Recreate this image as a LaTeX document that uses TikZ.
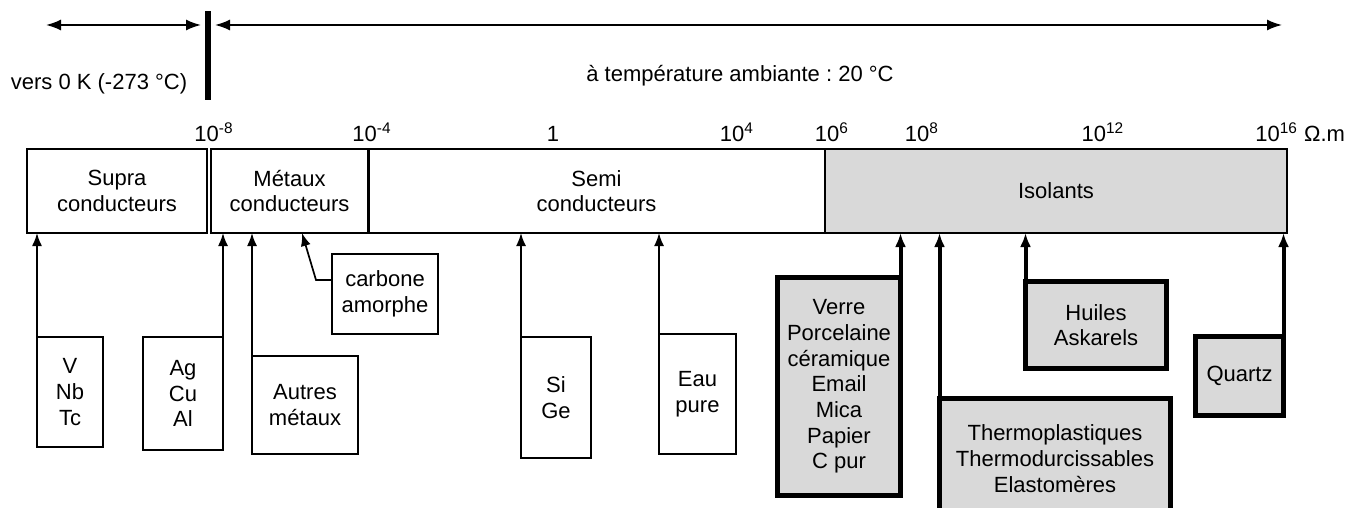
\documentclass[tikz,border=0pt]{standalone}
\usepackage{fontspec}
\setmainfont{Liberation Sans}
\frenchspacing
\usetikzlibrary{arrows.meta,calc}

\begin{document}
\begin{tikzpicture}[x=0.5pt, y=-0.5pt,
  font=\fontsize{11}{12.85}\selectfont,
  band/.style={draw, line width=0.85pt, anchor=north west, outer sep=0pt, inner sep=0pt, minimum height=42pt, align=center},
  isol/.style={band, fill=black!15},
  item/.style={draw, line width=0.85pt, anchor=north west, outer sep=0pt, inner sep=0pt, align=center},
  bitem/.style={item, line width=2.5pt, fill=black!15},
  arr/.style={-{Latex[length=6.5pt,width=5pt]}, line width=0.85pt},
  barr/.style={-{Latex[length=7pt,width=5.5pt]}, line width=2pt},
  dbl/.style={{Latex[length=7.5pt,width=5.5pt]}-{Latex[length=7.5pt,width=5.5pt]}, line width=0.85pt},
  dec/.style={anchor=base, inner sep=0pt}]
\useasboundingbox (0,0) rectangle (1359,508);

\node[fill, inner sep=0pt, outer sep=0pt, minimum width=3pt, minimum height=44.5pt] (zero) at (208,55.5) {};
\coordinate (froid) at (46,25);
\coordinate (chaud) at (1282,25);
\draw[dbl] (froid) -- ([xshift=-2pt]zero.west |- froid);
\draw[dbl] ([xshift=2pt]zero.east |- chaud) -- (chaud);
\node[anchor=base, inner sep=0pt] (vers) at (99,90) {vers 0 K (-273 °C)};
\node[anchor=base, inner sep=0pt] (amb) at (740,82) {à température ambiante : 20 °C};

\node[dec] (pm8) at (214,141) {10\textsuperscript{-8}};
\node[dec] (pm4) at (372,141) {10\textsuperscript{-4}};
\node[dec] (p0) at (553,141) {1};
\node[dec] (p4) at (737,141) {10\textsuperscript{4}};
\node[dec] (p6) at (832,141) {10\textsuperscript{6}};
\node[dec] (p8) at (922,141) {10\textsuperscript{8}};
\node[dec] (p12) at (1103,141) {10\textsuperscript{12}};
\node[dec, anchor=base west] (p16) at (1255,141) {10\textsuperscript{16} Ω.m};

\node[band, minimum width=90pt] (supra) at (27,149) {Supra\\conducteurs};
\node[band, minimum width=78.5pt] (metaux) at (211,149) {Métaux\\conducteurs};
\node[band, minimum width=228.5pt] (semi) at (368,149) {Semi\\conducteurs};
\node[isol, minimum width=231pt] (isol) at (825,149) {Isolants};
\draw[line width=1.5pt] (metaux.north east) -- (metaux.south east);

\node[item, minimum width=33pt, minimum height=55pt] (vnb) at (37,337) {V\\Nb\\Tc};
\node[item, minimum width=40pt, minimum height=56.5pt] (agcu) at (143,337) {Ag\\Cu\\Al};
\node[item, minimum width=53pt, minimum height=49pt] (autres) at (252,356) {Autres\\métaux};
\node[item, minimum width=53pt, minimum height=40pt] (carbone) at (332,254) {carbone\\amorphe};
\node[item, minimum width=35pt, minimum height=60.5pt] (sige) at (521,337) {Si\\Ge};
\node[item, minimum width=38.5pt, minimum height=60pt] (eau) at (659,334) {Eau\\pure};
\node[bitem, minimum width=61.5pt, minimum height=109pt] (verre) at (777.5,277.5) {Verre\\Porcelaine\\céramique\\Email\\Mica\\Papier\\C pur};
\node[bitem, minimum width=115.5pt, minimum height=60pt] (thermo) at (939.5,398.5) {Thermoplastiques\\Thermodurcissables\\Elastomères};
\node[bitem, minimum width=70.5pt, minimum height=43.5pt] (huiles) at (1025.5,281.5) {Huiles\\Askarels};
\node[bitem, minimum width=44pt, minimum height=39.5pt] (quartz) at (1195.5,336.5) {Quartz};

\draw[arr] (vnb.north west) -- (vnb.north west |- supra.south);
\draw[arr] (agcu.north east) -- (agcu.north east |- metaux.south);
\draw[arr] (autres.north west) -- (autres.north west |- metaux.south);
\coordinate (coude) at (316,280);
\coordinate (cpt) at (302,233);
\draw[arr] (carbone.west |- coude) -- (coude) -- (cpt |- metaux.south);
\draw[arr] (sige.north west) -- (sige.north west |- semi.south);
\draw[arr] (eau.north west) -- (eau.north west |- semi.south);
\draw[barr] (verre.north east) -- (verre.north east |- isol.south);
\draw[barr] (thermo.north west) -- (thermo.north west |- isol.south);
\draw[barr] (huiles.north west) -- (huiles.north west |- isol.south);
\draw[barr] (quartz.north east) -- (quartz.north east |- isol.south);
\end{tikzpicture}
\end{document}
